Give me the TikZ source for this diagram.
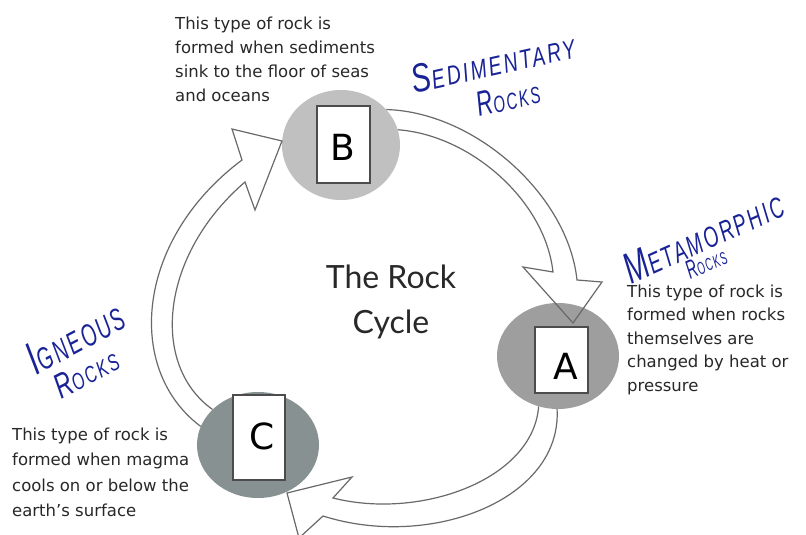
\documentclass[tikz,border=0pt]{standalone}
\usepackage{fontspec}
\usepackage{graphicx}
\setmainfont{DejaVu Sans}
\newfontfamily\titlefont{Lato}
\newfontfamily\handfont[LetterSpace=12]{Liberation Sans}
\usetikzlibrary{shapes.geometric}

\definecolor{rockB}{RGB}{192,192,192}
\definecolor{rockA}{RGB}{158,158,158}
\definecolor{rockC}{RGB}{135,145,145}
\definecolor{arrowline}{RGB}{105,105,105}
\definecolor{ink}{RGB}{25,35,150}
\definecolor{txt}{RGB}{40,40,40}

\newcommand\hwtext[2]{{\fontsize{30}{30}\selectfont #1}{\fontsize{20}{20}\selectfont #2}}

\begin{document}
\begin{tikzpicture}[x=1pt,y=-1pt,
  rock/.style={ellipse, inner sep=0pt},
  card/.style={draw=gray!60!black, line width=1.2pt, fill=white, inner sep=0pt},
  letter/.style={font=\fontsize{36}{36}\selectfont, text=black, inner sep=0pt},
  desc/.style={anchor=north west, align=left, inner sep=0pt, text=txt},
  hand/.style={text=ink, inner sep=0pt, font=\handfont\itshape},
  hollow/.style={draw=arrowline, line width=1.2pt, line join=miter}
]
\useasboundingbox (0,0) rectangle (806,535);
\fill[white] (0,0) rectangle (806,535);

% rock circles
\node[rock, fill=rockB, minimum width=118pt, minimum height=110pt] (B) at (341,145) {};
\node[rock, fill=rockA, minimum width=122pt, minimum height=106pt] (A) at (558,356) {};
\node[rock, fill=rockC, minimum width=122pt, minimum height=106pt] (C) at (258,445) {};

% cards
\node[card, minimum width=53pt, minimum height=77pt] (cardB) at (343.5,144.5) {};
\node[card, minimum width=53pt, minimum height=66pt] (cardA) at (561.5,360) {};
\node[card, minimum width=52pt, minimum height=85pt] (cardC) at (259,437.5) {};

\node[letter] (lB) at (343,147) {B};
\node[letter] (lA) at (566,366) {A};
\node[letter] (lC) at (262,436) {C};

% hollow arrows
\draw[hollow] (B.38) .. controls (475,112) and (568,195) .. (577,280)
  -- (602,282) -- (573,323) -- (523,267) -- (553,272)
  .. controls (545,200) and (470,135) .. (B.15);
\draw[hollow] (A.269) .. controls (562,500) and (430,550) .. (323,516)
  -- (299,538) -- (287,493) -- (352,477) -- (333,498)
  .. controls (420,520) and (533,480) .. (A.249);
\draw[hollow] (C.162) .. controls (125,370) and (135,240) .. (242,160)
  -- (232,129) -- (282,141) -- (255,210) -- (245,182)
  .. controls (160,255) and (150,365) .. (C.142);

% title
\node[align=center, inner sep=0pt, font=\titlefont\fontsize{32}{45}\selectfont, text=txt] (title) at (391,302) {The Rock\\Cycle};

% descriptions
\node[desc, font=\fontsize{16.5}{24}\selectfont] (txtB) at (175,16.5) {This type of rock is\\formed when sediments\\sink to the floor of seas\\and oceans};
\node[desc, font=\fontsize{16.5}{23.5}\selectfont] (txtA) at (627,284.5) {This type of rock is\\formed when rocks\\themselves are\\changed by heat or\\pressure};
\node[desc, font=\fontsize{16.5}{25.5}\selectfont] (txtC) at (12,427.5) {This type of rock is\\formed when magma\\cools on or below the\\earth's surface};

% handwritten labels
\node[hand, rotate=12.5] (sedA) at (493,62) {\resizebox{166pt}{28pt}{\hwtext{S}{EDIMENTARY}}};
\node[hand, rotate=13] (sedB) at (508,98) {\resizebox{64pt}{24pt}{\hwtext{R}{OCKS}}};
\node[hand, rotate=24] (metA) at (703,236) {\resizebox{170pt}{30pt}{\hwtext{M}{ETAMORPHIC}}};
\node[hand, rotate=24] (metB) at (706,263) {\resizebox{42pt}{18pt}{\hwtext{R}{OCKS}}};
\node[hand, rotate=28] (ignA) at (75,337) {\resizebox{104pt}{32pt}{\hwtext{I}{GNEOUS}}};
\node[hand, rotate=27] (ignB) at (86,373) {\resizebox{68pt}{24pt}{\hwtext{R}{OCKS}}};
\end{tikzpicture}
\end{document}
